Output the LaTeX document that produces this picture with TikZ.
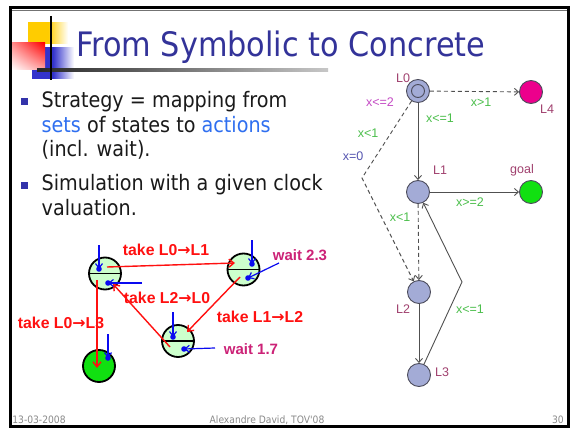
\documentclass[tikz,border=0pt]{standalone}
\usepackage{fontspec}
\usetikzlibrary{arrows.meta,shadings}
\newfontfamily\tah[FakeStretch=0.9]{DejaVu Sans}
\newfontfamily\arl{Liberation Sans}
\newfontfamily\dvs{DejaVu Sans}
\newcommand\toarrow{{\dvs\bfseries →}}
\definecolor{titleblue}{HTML}{333399}
\definecolor{bulletblue}{HTML}{3333AA}
\definecolor{linkblue}{HTML}{2F6FF0}
\definecolor{bodytext}{HTML}{1A1A1A}
\definecolor{footgray}{HTML}{8A8A8A}
\definecolor{logoyellow}{HTML}{FFCC00}
\definecolor{logoblue}{HTML}{3333CC}
\definecolor{locfill}{HTML}{A3ABD6}
\definecolor{locdraw}{HTML}{4C4C5C}
\definecolor{edgegray}{HTML}{505050}
\definecolor{locname}{HTML}{A0406E}
\definecolor{guardgreen}{HTML}{4CBF4C}
\definecolor{invpink}{HTML}{C54CC5}
\definecolor{assignblue}{HTML}{5555B0}
\definecolor{statefill}{HTML}{CCFFCC}
\definecolor{goalfill}{HTML}{11E011}
\definecolor{waitpink}{HTML}{CC2277}
\definecolor{takered}{HTML}{FF1010}
\definecolor{markblue}{HTML}{0A0AF0}
\tikzset{
  barb/.style={-{Straight Barb[length=4pt,width=7pt]}},
  loc/.style={circle, draw=locdraw, fill=locfill, line width=0.9pt, minimum size=23pt, inner sep=0pt},
  uedge/.style={draw=edgegray, line width=0.9pt, barb},
  udash/.style={uedge, dash pattern=on 4pt off 3pt},
  ulabel/.style={inner sep=0pt, font=\arl\fontsize{12.5}{14}\selectfont},
  stbox/.style={circle, draw=black, fill=statefill, line width=1.8pt, minimum size=32pt, inner sep=0pt},
  move/.style={draw=takered, line width=1.4pt, -{Straight Barb[length=5pt,width=8pt]}},
  clockmark/.style={draw=markblue, line width=1.2pt, -{Straight Barb[length=4.5pt,width=7pt]}},
  takelbl/.style={inner sep=0pt, text=takered, font=\arl\bfseries\fontsize{15.8}{18}\selectfont},
  waitlbl/.style={inner sep=0pt, text=waitpink, font=\arl\bfseries\fontsize{15}{17}\selectfont},
  bodyline/.style={anchor=base west, inner sep=0pt, text=bodytext, font=\tah\fontsize{21.3}{25}\selectfont},
  footlbl/.style={anchor=base, inner sep=0pt, text=footgray, font=\tah\fontsize{10.2}{12}\selectfont},
}
\begin{document}
\begin{tikzpicture}[x=1pt,y=-1pt]
\useasboundingbox (0,0) rectangle (571,428);
\fill[white] (0,0) rectangle (571,428);

% slide frame
\draw[black, line width=2.6pt] (10.5,7.5) rectangle (568.7,426.5);
\draw[black!55, line width=0.6pt] (12,10.3) -- (567.4,10.3);

% title logo
\shade[left color=logoyellow, right color=white, middle color=logoyellow] (28,23) rectangle (68,44);
\shade[left color=logoblue, right color=white, middle color=logoblue] (32,48) rectangle (74,79);
\shade[upper right=red, upper left=red!45!white, lower right=red!35!white, lower left=white] (12,43) rectangle (45,70);
\shade[left color=black!85, right color=black!22] (37,68.8) rectangle (328,71.4);
\draw[black, line width=1.6pt] (51,16) -- (51,80);

% title
\node[anchor=base west, inner sep=0pt, text=titleblue, font=\tah\fontsize{33.7}{40}\selectfont] (title) at (76,57) {From Symbolic to Concrete};

% bullets
\fill[bulletblue] (21,98.5) rectangle (27.5,105) coordinate (b1);
\fill[bulletblue] (21,182) rectangle (27.5,188.5) coordinate (b2);
\node[bodyline] (t1) at (41.5,107) {Strategy = mapping from};
\node[bodyline] (t2) at (41.5,132) {\textcolor{linkblue}{sets} of states to \textcolor{linkblue}{actions}};
\node[bodyline] (t3) at (41.5,156.5) {(incl. wait).};
\node[bodyline] (t4) at (41.5,190.5) {Simulation with a given clock};
\node[bodyline] (t5) at (41.5,215) {valuation.};

% footer
\node[footlbl] (fdate) at (39,423) {13-03-2008};
\node[footlbl] (fauth) at (267,423) {Alexandre David, TOV'08};
\node[footlbl, anchor=base east] (fpage) at (564,423) {30};

% timed automaton
\node[loc] (L0) at (418,91) {};
\node[circle, draw=locdraw, line width=0.9pt, minimum size=13pt, inner sep=0pt] (L0in) at (418,91) {};
\node[loc, fill=magenta] (L4) at (531,92) {};
\node[loc] (L1) at (418,192) {};
\node[loc, fill=goalfill] (G) at (531,192) {};
\node[loc] (L2) at (419,292) {};
\node[loc] (L3) at (419,375) {};
\coordinate (bendA) at (362,178);
\coordinate (bendB) at (462,282);

\draw[udash] (L0) -- (L4);
\draw[uedge] (L0) -- (L1);
\draw[udash] (L0) -- (bendA) -- (L2);
\draw[udash] (L1) -- (L2);
\draw[uedge] (L1) -- (G);
\draw[uedge] (L2) -- (L3);
\draw[uedge] (L3) -- (bendB) -- (L1);

\node[ulabel, text=locname] (nL0) at (403,78) {L0};
\node[ulabel, text=locname] (nL4) at (547,109) {L4};
\node[ulabel, text=locname] (nL1) at (440,170) {L1};
\node[ulabel, text=locname] (nG) at (522,170) {goal};
\node[ulabel, text=locname] (nL2) at (403,309) {L2};
\node[ulabel, text=locname] (nL3) at (442,372) {L3};
\node[ulabel, text=invpink] (i0) at (380,102) {x<=2};
\node[ulabel, text=guardgreen] (g1) at (481,102) {x>1};
\node[ulabel, text=guardgreen] (g2) at (440,118) {x<=1};
\node[ulabel, text=guardgreen] (g3) at (368,133) {x<1};
\node[ulabel, text=assignblue] (a1) at (353,156) {x=0};
\node[ulabel, text=guardgreen] (g4) at (470,202) {x>=2};
\node[ulabel, text=guardgreen] (g5) at (400,217) {x<1};
\node[ulabel, text=guardgreen] (g6) at (470,309) {x<=1};

% concrete strategy run
\node[stbox] (C0) at (105,273.5) {};
\node[stbox] (C1) at (243.5,269.5) {};
\node[stbox] (C2) at (178,341) {};
\node[stbox, fill=goalfill] (CG) at (99,366) {};
\draw[black, line width=1.3pt] (C0.west) -- (C0.east);
\draw[black, line width=1.3pt] (C1.west) -- (C1.east);
\draw[black, line width=1.3pt] (C2.west) -- (C2.east);

% red moves
\coordinate (r1s) at (107,267);
\coordinate (r1e) at (235,263);
\coordinate (r2s) at (240,277);
\coordinate (r2e) at (187,332);
\coordinate (r3s) at (170,347);
\coordinate (r3e) at (113,284);
\coordinate (r4s) at (97,280);
\coordinate (r4e) at (97,368);
\draw[move] (r1s) -- (r1e);
\draw[move] (r2s) -- (r2e);
\draw[move] (r3s) -- (r3e);
\draw[move] (r4s) -- (r4e);

% blue clock markers
\coordinate (m0a) at (99,245);   \coordinate (d0a) at (99,269);
\coordinate (m0b) at (142,283);  \coordinate (d0b) at (108,283);
\coordinate (m1a) at (252,240);  \coordinate (d1a) at (252,264);
\coordinate (m1b) at (279,263);  \coordinate (d1b) at (248,278);
\coordinate (m2a) at (173,312);  \coordinate (d2a) at (173,337);
\coordinate (m2b) at (215,348);  \coordinate (d2b) at (184,349);
\coordinate (mga) at (108,334);  \coordinate (dga) at (108,358);
\foreach \m/\d in {m0a/d0a,m0b/d0b,m1a/d1a,m1b/d1b,m2a/d2a,m2b/d2b,mga/dga}{
  \draw[clockmark] (\m) -- (\d);
  \fill[markblue] (\d) circle (2.8);
}

\node[takelbl] (k1) at (166,250) {take L0\toarrow L1};
\node[takelbl] (k2) at (167,298) {take L2\toarrow L0};
\node[takelbl] (k3) at (260,317) {take L1\toarrow L2};
\node[takelbl] (k4) at (61,323) {take L0\toarrow L3};
\node[waitlbl] (w1) at (300,255) {wait 2.3};
\node[waitlbl] (w2) at (251,349) {wait 1.7};
\end{tikzpicture}
\end{document}
